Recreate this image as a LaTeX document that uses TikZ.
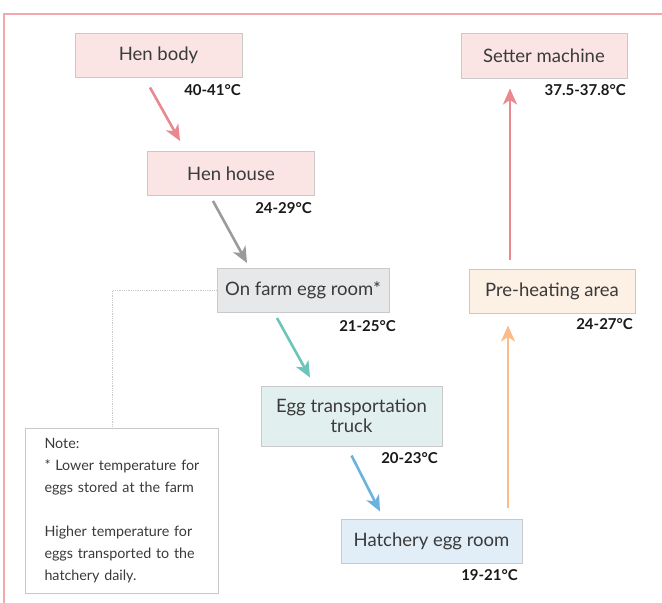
\documentclass[tikz,border=0pt]{standalone}
\usepackage{fontspec}
\setmainfont{Lato}
\usetikzlibrary{arrows.meta,calc}
\definecolor{framepink}{HTML}{F2A9AE}
\definecolor{boxgray}{HTML}{C9C9C9}
\definecolor{labeltext}{HTML}{3A3A3A}
\definecolor{warmfill}{HTML}{FAE4E4}
\definecolor{farmfill}{HTML}{E7E8E9}
\definecolor{truckfill}{HTML}{E1F0EE}
\definecolor{hatchfill}{HTML}{E1EEF7}
\definecolor{heatfill}{HTML}{FDF0E4}
\definecolor{pinkflow}{HTML}{E9888F}
\definecolor{grayflow}{HTML}{9B9B9B}
\definecolor{tealflow}{HTML}{6CC4BB}
\definecolor{blueflow}{HTML}{6AB3E0}
\definecolor{orangeflow}{HTML}{FDBB88}

\begin{document}
\begin{tikzpicture}[x=1pt,y=-1pt,
stage/.style={draw=boxgray,line width=1pt,inner sep=0pt,minimum height=44pt,text=labeltext,font=\fontsize{18.5}{20.5}\selectfont},
warm/.style={stage,fill=warmfill},
farm/.style={stage,fill=farmfill},
truck/.style={stage,fill=truckfill},
hatch/.style={stage,fill=hatchfill},
heat/.style={stage,fill=heatfill},
temp/.style={anchor=east,inner sep=0pt,text=black!90,font=\fontsize{15}{17}\selectfont\bfseries},
flow/.style={line width=2.6pt,-{Stealth[length=16pt,width=14pt,inset=4.5pt]}},
note/.style={draw=boxgray,line width=1pt,fill=white,anchor=north west,inner xsep=19pt,inner ysep=0pt,text width=155pt,minimum height=165pt,align=left,text=labeltext,font=\fontsize{14.3}{22}\selectfont}]

\useasboundingbox (0,0) rectangle (662,603);
\draw[framepink,line width=1.5pt] (662,14) -- (4,14) -- (4,603);

% left column, going down
\node[warm,minimum width=167pt] (henbody) at (158.5,55) {Hen body};
\node[temp] (thenbody) at (241,90) {40-41°C};
\node[warm,minimum width=167pt] (henhouse) at (231,173.5) {Hen house};
\node[temp] (thenhouse) at (312,208) {24-29°C};
\node[farm,minimum width=172pt] (farmroom) at (303,290.5) {On farm egg room*};
\node[temp] (tfarmroom) at (396,326) {21-25°C};
\node[truck,minimum width=181pt,minimum height=60pt,align=center] (truck) at (351.5,416) {Egg transportation\\truck};
\node[temp] (ttruck) at (438,458) {20-23°C};
\node[hatch,minimum width=181pt] (hatchery) at (431.5,541) {Hatchery egg room};
\node[temp] (thatchery) at (518,575) {19-21°C};

% right column, going up
\node[heat,minimum width=166pt] (preheat) at (552,291) {Pre-heating area};
\node[temp] (tpreheat) at (633,324) {24-27°C};
\node[warm,minimum width=166pt,minimum height=45pt] (setter) at (544,55.5) {Setter machine};
\node[temp] (tsetter) at (626,90) {37.5-37.8°C};

\node[note] (note) at (25,428) {Note:\\{}* Lower temperature for eggs stored at the farm\\[22pt]Higher temperature for eggs transported to the hatchery daily.};

\draw[boxgray,densely dotted,line width=0.8pt] (farmroom.west) -| ([xshift=-9.5pt]note.north);

\draw[flow,pinkflow] ([xshift=-8.5pt,yshift=-10pt]henbody.south) -- ([xshift=-51pt,yshift=10pt]henhouse.north);
\draw[flow,grayflow] ([xshift=-18pt,yshift=-5pt]henhouse.south) -- ([xshift=-56pt,yshift=5pt]farmroom.north);
\draw[flow,tealflow] ([xshift=-26pt,yshift=-5pt]farmroom.south) -- ([xshift=-41.5pt,yshift=8pt]truck.north);
\draw[flow,blueflow] ([yshift=-9pt]truck.south) -- ([xshift=-51.5pt,yshift=7pt]hatchery.north);
\draw[flow,orangeflow] ([xshift=76.5pt,yshift=11pt]hatchery.north) -- ([xshift=-44pt,yshift=-12pt]preheat.south);
\draw[flow,pinkflow] ([xshift=-42pt,yshift=9pt]preheat.north) -- ([xshift=-34pt,yshift=-10pt]setter.south);
\end{tikzpicture}
\end{document}
